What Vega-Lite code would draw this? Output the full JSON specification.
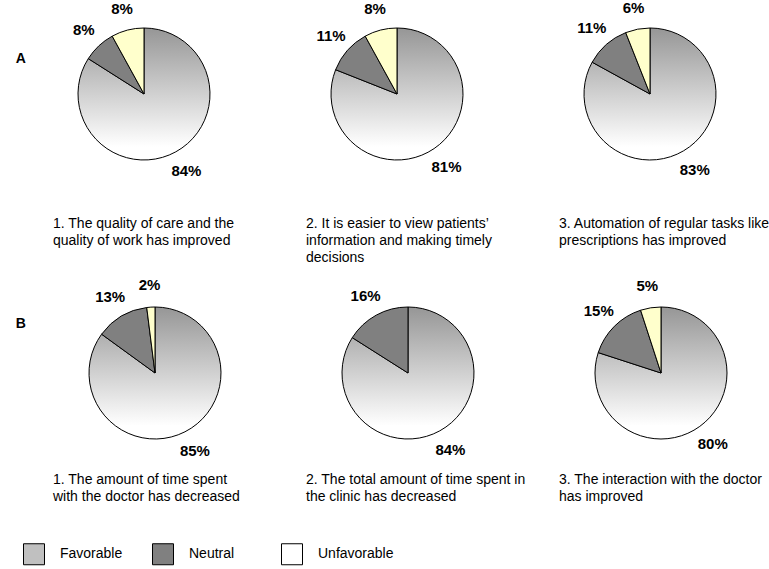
{
  "$schema": "https://vega.github.io/schema/vega-lite/v6.json",
  "autosize": {"type": "pad"},
  "padding": {"left": 15, "top": 0, "right": 0, "bottom": 0},
  "config": {"font": "Liberation Sans", "view": {"stroke": null}},
  "data": {"values": [
    {"grp": "A", "q": "1. The quality of care and the|quality of work has improved", "cat": "Favorable", "share": 0.84},
    {"grp": "A", "q": "1. The quality of care and the|quality of work has improved", "cat": "Neutral", "share": 0.08},
    {"grp": "A", "q": "1. The quality of care and the|quality of work has improved", "cat": "Unfavorable", "share": 0.08},
    {"grp": "A", "q": "2. It is easier to view patients’|information and making timely|decisions", "cat": "Favorable", "share": 0.81},
    {"grp": "A", "q": "2. It is easier to view patients’|information and making timely|decisions", "cat": "Neutral", "share": 0.11},
    {"grp": "A", "q": "2. It is easier to view patients’|information and making timely|decisions", "cat": "Unfavorable", "share": 0.08},
    {"grp": "A", "q": "3. Automation of regular tasks like|prescriptions has improved", "cat": "Favorable", "share": 0.83},
    {"grp": "A", "q": "3. Automation of regular tasks like|prescriptions has improved", "cat": "Neutral", "share": 0.11},
    {"grp": "A", "q": "3. Automation of regular tasks like|prescriptions has improved", "cat": "Unfavorable", "share": 0.06},
    {"grp": "B", "q": "1. The amount of time spent|with the doctor has decreased", "cat": "Favorable", "share": 0.85},
    {"grp": "B", "q": "1. The amount of time spent|with the doctor has decreased", "cat": "Neutral", "share": 0.13},
    {"grp": "B", "q": "1. The amount of time spent|with the doctor has decreased", "cat": "Unfavorable", "share": 0.02},
    {"grp": "B", "q": "2. The total amount of time spent in|the clinic  has decreased", "cat": "Favorable", "share": 0.84},
    {"grp": "B", "q": "2. The total amount of time spent in|the clinic  has decreased", "cat": "Neutral", "share": 0.16},
    {"grp": "B", "q": "3. The interaction with the doctor|has improved", "cat": "Favorable", "share": 0.80},
    {"grp": "B", "q": "3. The interaction with the doctor|has improved", "cat": "Neutral", "share": 0.15},
    {"grp": "B", "q": "3. The interaction with the doctor|has improved", "cat": "Unfavorable", "share": 0.05}
  ]},
  "spacing": 13,
  "vconcat": [
    {
      "transform": [{"filter": "datum.grp === 'A'"}],
      "title": {"text": "A", "orient": "left", "angle": 0, "anchor": "end", "align": "right", "baseline": "top", "offset": 17, "dy": 33, "frame": "group", "fontSize": 14, "fontWeight": "bold", "color": "black"},
      "facet": {"column": {"field": "q", "type": "nominal", "header": {"title": null, "labelOrient": "bottom", "labelAlign": "left", "labelAnchor": "start", "labelBaseline": "top", "labelFontSize": 14, "labelFont": "Liberation Sans", "labelLineHeight": 17, "labelPadding": 37, "labelLimit": 0, "labelColor": "black", "labelExpr": "split(datum.value, '|')"}}},
      "spacing": 71,
      "spec": {
        "width": 182, "height": 150,
        "layer": [
          {
            "mark": {"type": "arc", "outerRadius": 66, "stroke": "black", "strokeWidth": 1},
            "encoding": {
              "theta": {"field": "share", "type": "quantitative", "stack": true},
              "order": {"field": "cat", "type": "ordinal"},
              "fill": {
                "field": "cat", "type": "nominal",
                "scale": {"domain": ["Favorable", "Neutral", "Unfavorable"], "range": ["#c0c0c0", "#808080", "#ffffff"]},
                "condition": [
                  {"test": "datum.cat === 'Favorable'", "value": {"gradient": "linear", "x1": 0, "y1": 0, "x2": 0, "y2": 1, "stops": [{"offset": 0, "color": "#969696"}, {"offset": 0.9, "color": "#ffffff"}]}},
                  {"test": "datum.cat === 'Unfavorable'", "value": "#ffffcc"}
                ],
                "legend": {"title": null, "orient": "none", "legendX": -30, "legendY": 524, "direction": "horizontal", "symbolType": "square", "symbolSize": 441, "symbolStrokeColor": "#333333", "symbolStrokeWidth": 1, "labelFontSize": 14, "labelFont": "Liberation Sans", "labelColor": "black", "labelOffset": 15, "columnPadding": 14, "gridAlign": "all"}
              }
            }
          },
          {
            "mark": {"type": "text", "radius": 88, "fontSize": 15, "fontWeight": "bold", "font": "Liberation Sans", "color": "black"},
            "encoding": {
              "theta": {"field": "share", "type": "quantitative", "stack": true},
              "order": {"field": "cat", "type": "ordinal"},
              "detail": {"field": "cat", "type": "nominal"},
              "text": {"field": "share", "type": "quantitative", "format": ".0%"}
            }
          }
        ]
      }
    },
    {
      "transform": [{"filter": "datum.grp === 'B'"}],
      "title": {"text": "B", "orient": "left", "angle": 0, "anchor": "end", "align": "right", "baseline": "top", "offset": 17, "dy": 19, "frame": "group", "fontSize": 14, "fontWeight": "bold", "color": "black"},
      "facet": {"column": {"field": "q", "type": "nominal", "header": {"title": null, "labelOrient": "bottom", "labelAlign": "left", "labelAnchor": "start", "labelBaseline": "top", "labelFontSize": 14, "labelFont": "Liberation Sans", "labelLineHeight": 17, "labelPadding": 13, "labelLimit": 0, "labelColor": "black", "labelExpr": "split(datum.value, '|')"}}},
      "spacing": 49,
      "spec": {
        "width": 204, "height": 150,
        "layer": [
          {
            "mark": {"type": "arc", "outerRadius": 66, "stroke": "black", "strokeWidth": 1},
            "encoding": {
              "theta": {"field": "share", "type": "quantitative", "stack": true},
              "order": {"field": "cat", "type": "ordinal"},
              "fill": {
                "field": "cat", "type": "nominal",
                "scale": {"domain": ["Favorable", "Neutral", "Unfavorable"], "range": ["#c0c0c0", "#808080", "#ffffff"]},
                "condition": [
                  {"test": "datum.cat === 'Favorable'", "value": {"gradient": "linear", "x1": 0, "y1": 0, "x2": 0, "y2": 1, "stops": [{"offset": 0, "color": "#969696"}, {"offset": 0.9, "color": "#ffffff"}]}},
                  {"test": "datum.cat === 'Unfavorable'", "value": "#ffffcc"}
                ]
              }
            }
          },
          {
            "mark": {"type": "text", "radius": 88, "fontSize": 15, "fontWeight": "bold", "font": "Liberation Sans", "color": "black"},
            "encoding": {
              "theta": {"field": "share", "type": "quantitative", "stack": true},
              "order": {"field": "cat", "type": "ordinal"},
              "detail": {"field": "cat", "type": "nominal"},
              "text": {"field": "share", "type": "quantitative", "format": ".0%"}
            }
          }
        ]
      }
    }
  ]
}
